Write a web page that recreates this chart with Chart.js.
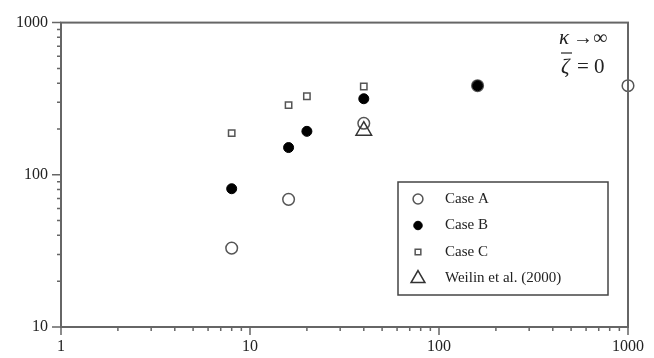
<!DOCTYPE html>
<html>
<head>
<meta charset="utf-8">
<script src="https://cdn.jsdelivr.net/npm/chart.js@4/dist/chart.umd.min.js"></script>
<style>
  html, body { margin: 0; padding: 0; background: #fff; }
  #wrap { width: 654px; height: 358px; }
</style>
</head>
<body>
<div id="wrap"><canvas id="chart" width="654" height="358"></canvas></div>
<script>
// values
const caseAX = [8, 16, 40, 160, 1000];
const caseAY = [33, 69, 218, 385, 385];
const caseBX = [8, 16, 20, 40, 160];
const caseBY = [81, 151, 193, 316, 385];
const caseCX = [8, 16, 20, 40];
const caseCY = [188, 287, 328, 380];
const weilinX = [40];
const weilinY = [195];

const legendLabels = ["Case A", "Case B", "Case C", "Weilin et al. (2000)"];
const xTickValues = [1,2,3,4,5,6,7,8,9,10,20,30,40,50,60,70,80,90,100,200,300,400,500,600,700,800,900,1000];
const yTickValues = [10,20,30,40,50,60,70,80,90,100,200,300,400,500,600,700,800,900,1000];

const serif = "'Liberation Serif', 'DejaVu Serif', serif";
const axisColor = "#666";
const textColor = "#222";

function toPoints(xs, ys) {
  return xs.map((x, i) => ({ x: x, y: ys[i] }));
}

function isMajor(v) {
  const l = Math.log10(v);
  return Math.abs(l - Math.round(l)) < 1e-9;
}

// higher order is drawn first, so Case B sits on top of Case A
const datasets = [
  {
    label: legendLabels[0],
    data: toPoints(caseAX, caseAY),
    order: 4,
    pointStyle: "circle",
    pointRadius: 5.8,
    backgroundColor: "#fff",
    borderColor: "#555",
    borderWidth: 1.5
  },
  {
    label: legendLabels[1],
    data: toPoints(caseBX, caseBY),
    order: 3,
    pointStyle: "circle",
    pointRadius: 5,
    backgroundColor: "#000",
    borderColor: "#000",
    borderWidth: 1
  },
  {
    label: legendLabels[2],
    data: toPoints(caseCX, caseCY),
    order: 2,
    pointStyle: "rect",
    pointRadius: 4.5,
    backgroundColor: "#fff",
    borderColor: "#555",
    borderWidth: 1.5
  },
  {
    label: legendLabels[3],
    data: toPoints(weilinX, weilinY),
    order: 1,
    pointStyle: "triangle",
    pointRadius: 9,
    backgroundColor: "rgba(0,0,0,0)",
    borderColor: "#333",
    borderWidth: 1.5
  }
];
datasets.forEach(d => { d.clip = false; d.pointHoverRadius = d.pointRadius; });

// frame, tick marks, legend box and the kappa/zeta note
const decorPlugin = {
  id: "decor",
  afterDraw(chart) {
    const ctx = chart.ctx;
    const a = chart.chartArea;
    const xs = chart.scales.x;
    const ys = chart.scales.y;

    ctx.save();
    ctx.strokeStyle = axisColor;
    ctx.lineWidth = 2;
    ctx.strokeRect(a.left, a.top, a.right - a.left, a.bottom - a.top);

    ctx.lineWidth = 1.5;
    ctx.beginPath();
    xTickValues.forEach(v => {
      const px = xs.getPixelForValue(v);
      const len = isMajor(v) ? 8 : 4;
      ctx.moveTo(px, a.bottom);
      ctx.lineTo(px, a.bottom + len);
    });
    yTickValues.forEach(v => {
      const py = ys.getPixelForValue(v);
      const len = isMajor(v) ? 9 : 4;
      ctx.moveTo(a.left - len, py);
      ctx.lineTo(a.left, py);
    });
    ctx.stroke();

    // legend
    const bx = 398, by = 182, bw = 210, bh = 113;
    ctx.lineWidth = 1.5;
    ctx.strokeStyle = "#444";
    ctx.fillStyle = "#fff";
    ctx.fillRect(bx, by, bw, bh);
    ctx.strokeRect(bx, by, bw, bh);
    ctx.font = "15px " + serif;
    ctx.textBaseline = "middle";
    ctx.textAlign = "left";
    legendLabels.forEach((label, i) => {
      const ds = chart.data.datasets[i];
      const cy = by + 17 + i * 26.5;
      ctx.fillStyle = ds.backgroundColor;
      ctx.strokeStyle = ds.borderColor;
      ctx.lineWidth = ds.borderWidth;
      const r = ds.pointStyle === "triangle" ? 8 : (ds.pointStyle === "rect" ? 4 : ds.pointRadius * 0.85);
      Chart.helpers.drawPoint(ctx, { pointStyle: ds.pointStyle, radius: r, borderWidth: ds.borderWidth, rotation: 0 }, 418, cy);
      ctx.fillStyle = textColor;
      ctx.fillText(label, 445, cy);
    });

    // note in the top right corner
    ctx.fillStyle = textColor;
    ctx.textBaseline = "alphabetic";
    ctx.font = "italic 21px " + serif;
    ctx.fillText("\u03BA", 559, 44);
    ctx.font = "20px " + serif;
    ctx.fillText("\u2192\u221E", 573, 44);
    ctx.font = "italic 21px " + serif;
    ctx.fillText("\u03B6", 561, 73);
    ctx.font = "21px " + serif;
    ctx.fillText("=", 577, 73);
    ctx.fillText("0", 594, 73);
    ctx.strokeStyle = textColor;
    ctx.lineWidth = 1.2;
    ctx.beginPath();
    ctx.moveTo(561, 53);
    ctx.lineTo(572, 53);
    ctx.stroke();
    ctx.restore();
  }
};

new Chart(document.getElementById("chart"), {
  type: "scatter",
  data: { datasets: datasets },
  options: {
    responsive: false,
    animation: false,
    events: [],
    layout: { padding: { left: 0, right: 22, top: 10, bottom: 0 } },
    plugins: {
      legend: { display: false },
      tooltip: { enabled: false }
    },
    scales: {
      x: {
        type: "logarithmic",
        min: 1,
        max: 1000,
        afterBuildTicks: axis => { axis.ticks = xTickValues.map(v => ({ value: v })); },
        afterFit: axis => { axis.height = 31; },
        grid: { display: false, drawTicks: false },
        border: { display: false },
        ticks: {
          autoSkip: false,
          maxRotation: 0,
          padding: 10,
          color: textColor,
          font: { family: serif, size: 16 },
          callback: v => isMajor(v) ? String(v) : ""
        }
      },
      y: {
        type: "logarithmic",
        min: 10,
        max: 1000,
        afterBuildTicks: axis => { axis.ticks = yTickValues.map(v => ({ value: v })); },
        afterFit: axis => { axis.width = 61; },
        grid: { display: false, drawTicks: false },
        border: { display: false },
        ticks: {
          autoSkip: false,
          padding: 13,
          color: textColor,
          font: { family: serif, size: 16 },
          callback: v => isMajor(v) ? String(v) : ""
        }
      }
    }
  },
  plugins: [decorPlugin]
});
</script>
</body>
</html>
